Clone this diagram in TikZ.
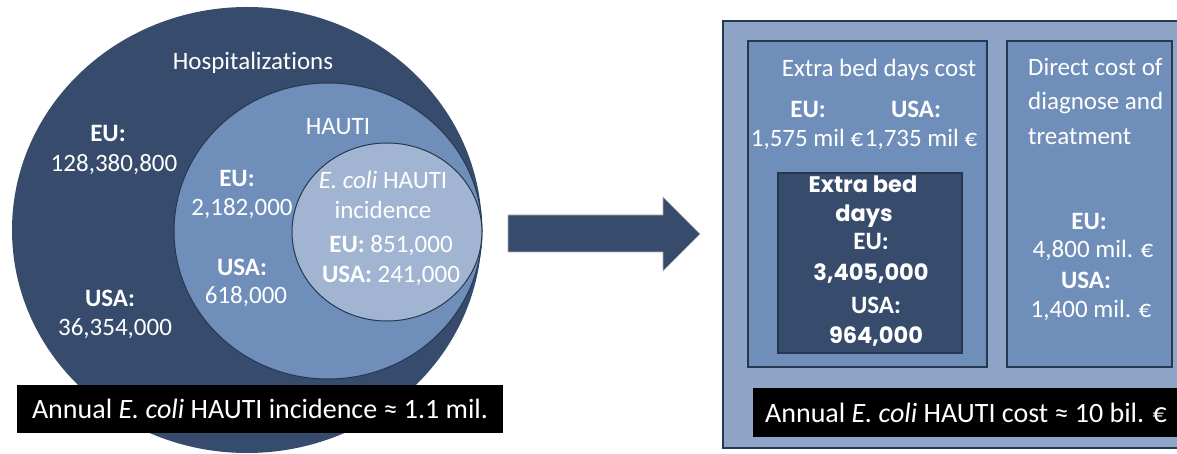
\documentclass[tikz,border=0pt]{standalone}
\usepackage{fontspec}
\setmainfont{Carlito}[Ligatures=NoCommon]
\newfontfamily\geo{Poppins}
\definecolor{navy}{HTML}{374C6D}
\definecolor{midblue}{HTML}{6F8FBA}
\definecolor{lightblue}{HTML}{A1B4D1}
\definecolor{panelblue}{HTML}{8FA5C8}
\definecolor{edgeblue}{HTML}{263750}
\tikzset{
  lbl/.style={text=white, inner sep=0pt, anchor=base, font=\fontsize{25}{29}\selectfont},
  blbl/.style={lbl, font=\fontsize{25}{29}\selectfont\bfseries},
  glbl/.style={lbl, font=\fontsize{22.5}{26}\selectfont\geo\bfseries},
  banner/.style={lbl, font=\fontsize{28}{32}\selectfont},
  boxshape/.style={fill=midblue, draw=edgeblue, line width=1.3pt},
}
\begin{document}
\begin{tikzpicture}[x=1pt,y=-1pt]
\useasboundingbox (0,0) rectangle (1177,454);
\clip (0,0) rectangle (1177,454);
% ---- left: nested ellipses
\fill[navy] (247,230) ellipse [x radius=235pt, y radius=223pt];
\draw[fill=midblue, draw=edgeblue, line width=1pt] (328,231) ellipse [x radius=154pt, y radius=148pt];
\draw[fill=lightblue, draw=edgeblue, line width=1pt] (387,232) ellipse [x radius=95pt, y radius=89pt];
\node[lbl] (hosp) at (253,70) {Hospitalizations};
\node[blbl] (heu) at (108,142) {EU:};
\node[lbl] (heuv) at (114,172) {128,380,800};
\node[blbl] (husa) at (110,306) {USA:};
\node[lbl] (husav) at (115,335) {36,354,000};
\node[lbl] (hauti) at (338,135) {HAUTI};
\node[blbl] (aeu) at (237,187) {EU:};
\node[lbl] (aeuv) at (242,216) {2,182,000};
\node[blbl] (ausa) at (242,275) {USA:};
\node[lbl] (ausav) at (246,303) {618,000};
\node[lbl] (ecoli) at (383,189) {\textit{E. coli} HAUTI};
\node[lbl] (incid) at (383,219) {incidence};
\node[lbl] (eeu) at (391,253) {\textbf{EU:} 851,000};
\node[lbl] (eusa) at (391,283) {\textbf{USA:} 241,000};
\fill[black] (17,385) rectangle (503,433);
\node[banner] (linc) at (260,418) {Annual \textit{E. coli} HAUTI incidence ≈ 1.1 mil.};
% ---- block arrow
\draw[fill=navy, draw=gray!60, line width=0.6pt] (508,215) -- (663,215) -- (663,197) -- (700,234) -- (663,271) -- (663,252) -- (508,252) -- cycle;
% ---- right panel
\draw[fill=panelblue, draw=edgeblue, line width=1.3pt] (723,21) rectangle (1195,448);
\draw[boxshape] (748,41) rectangle (987,367);
\draw[boxshape] (1007,41) rectangle (1172,367);
\draw[fill=navy, draw=edgeblue, line width=1.3pt] (778,173) rectangle (962,353);
\node[lbl] (bdc) at (879,77) {Extra bed days cost};
\node[blbl] (bdeu) at (808,118) {EU:};
\node[blbl] (bdusa) at (916,118) {USA:};
\node[lbl] (bdeuv) at (807,147) {1,575 mil €};
\node[lbl] (bdusav) at (921,147) {1,735 mil €};
\node[lbl, anchor=base west] (dc1) at (1028,76) {Direct cost of};
\node[lbl, anchor=base west] (dc2) at (1028,110) {diagnose and};
\node[lbl, anchor=base west] (dc3) at (1028,145) {treatment};
\node[blbl] (dceu) at (1089,230) {EU:};
\node[lbl] (dceuv) at (1093,258) {4,800 mil. €};
\node[blbl] (dcusa) at (1086,288) {USA:};
\node[lbl] (dcusav) at (1091,317) {1,400 mil. €};
\node[glbl] (xb1) at (863,193) {Extra bed};
\node[glbl] (xb2) at (864,222) {days};
\node[blbl] (xbeu) at (871,250) {EU:};
\node[glbl] (xbeuv) at (871,280) {3,405,000};
\node[blbl] (xbusa) at (876,313) {USA:};
\node[glbl] (xbusav) at (876,343) {964,000};
\fill[black] (753,388) rectangle (1195,437);
\node[banner] (lcost) at (966,422) {Annual \textit{E. coli} HAUTI cost ≈ 10 bil. €};
\end{tikzpicture}
\end{document}
